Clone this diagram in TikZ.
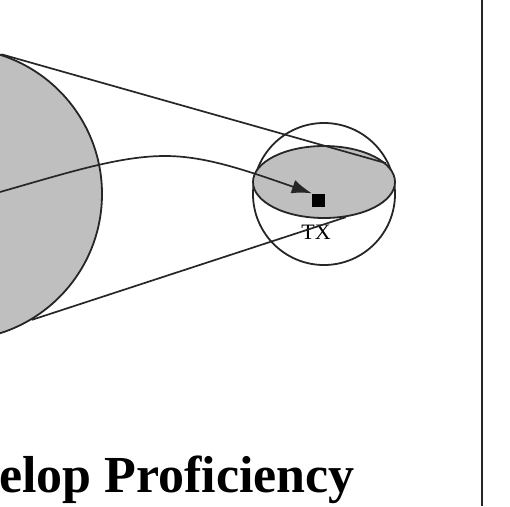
\documentclass[tikz,border=0pt]{standalone}
\usepackage{fontspec}
\setmainfont{Liberation Serif}
\usetikzlibrary{shapes.geometric,arrows.meta}
\begin{document}
\begin{tikzpicture}[x=1pt,y=-1pt,
  outline/.style={draw=black!85,line width=1.8pt},
  grayfill/.style={fill=black!25},
  conn/.style={draw=black!85,line width=1.7pt}]
\useasboundingbox (0,0) rectangle (510,506);
\clip (0,0) rectangle (510,506);
% large sphere
\node[circle,outline,grayfill,minimum size=292pt,inner sep=0pt] (big) at (-44,194) {};
% small sphere and its equator
\node[circle,outline,minimum size=142pt,inner sep=0pt] (small) at (324,194) {};
\node[ellipse,outline,grayfill,minimum width=142pt,minimum height=72pt,inner sep=0pt] (eq) at (324,182) {};
% target square and label
\node[fill=black,minimum size=13pt,inner sep=0pt] (tx) at (318.5,200) {};
\node[font=\fontsize{22}{22}\selectfont,inner sep=0pt] (txl) at (316,232) {TX};
% tangent lines
\draw[conn] (big.72.4) -- (eq.17);
\draw[conn] (big.-59.5) -- (eq.-58.3);
% curved arrow
\coordinate (start) at (0,192);
\draw[conn,-{Latex[length=20pt,width=14pt]}] (start) .. controls (70,172) and (120,156) .. (165,156)
  .. controls (205,156) and (245,170) .. (tx.north west);
% separator line
\coordinate (vtop) at (482,0);
\coordinate (vbot) at (482,506);
\draw[line width=2.6pt,black!85] (vtop) -- (vbot);
% title fragment
\node[anchor=base west,font=\fontsize{52}{52}\selectfont\bfseries,inner sep=0pt] (title) at (-1,492) {elop Proficiency};
\end{tikzpicture}
\end{document}
